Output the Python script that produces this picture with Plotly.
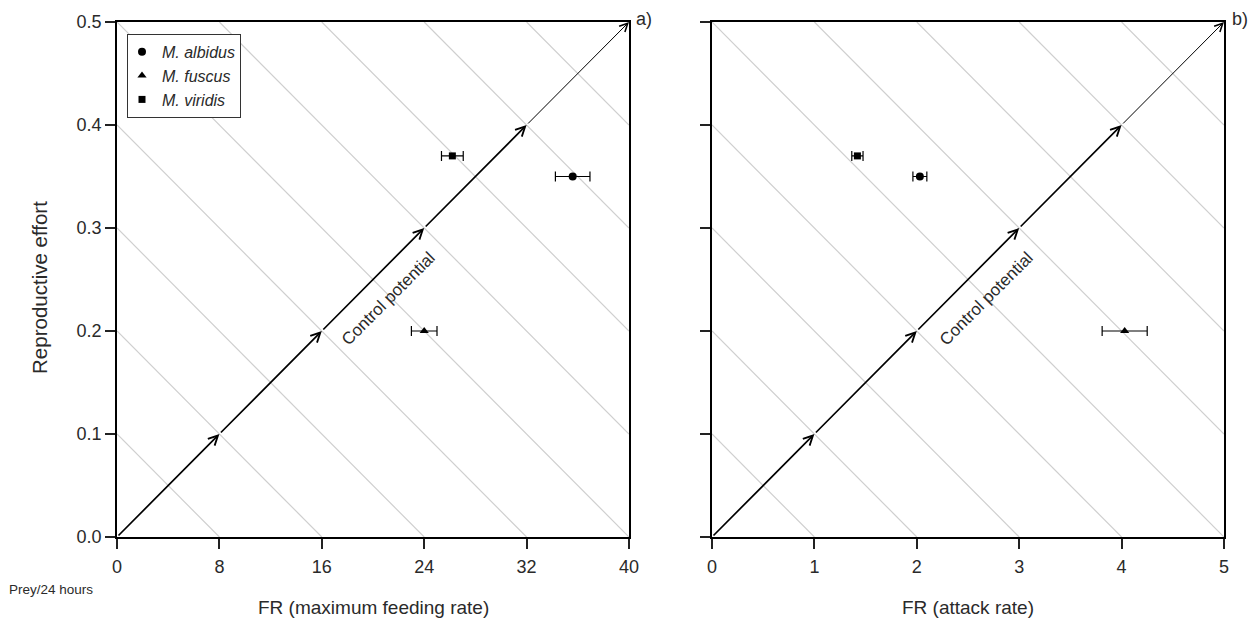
import plotly.graph_objects as go

species = ["M. albidus", "M. fuscus", "M. viridis"]
symbols = ["circle", "triangle-up", "square"]
reproductive_effort = [0.35, 0.20, 0.37]

fr_max = [35.6, 24.0, 26.2]
fr_max_err = [1.35, 1.0, 0.85]

fr_attack = [2.03, 4.03, 1.42]
fr_attack_err = [0.068, 0.22, 0.055]

x_max_a, x_max_b, y_max = 40, 5, 0.5
xticks_a = [0, 8, 16, 24, 32, 40]
xticks_b = [0, 1, 2, 3, 4, 5]
yticks = [0.0, 0.1, 0.2, 0.3, 0.4, 0.5]
iso_levels = [0.2, 0.4, 0.6, 0.8, 1.0, 1.2, 1.4, 1.6, 1.8]
arrow_steps = [0.2, 0.4, 0.6, 0.8, 1.0]

FONT = "Liberation Sans, Arial, sans-serif"
TXT = "#2a2a2a"
W, H = 1260, 641
ML, MR, MT, MB = 117, 36, 18, 104
PW = W - ML - MR
fig = go.Figure()

panels = [("x", "y", x_max_a, fr_max, fr_max_err, True),
          ("x2", "y2", x_max_b, fr_attack, fr_attack_err, False)]

for xa, ya, xmax, xs, xe, show_leg in panels:
    # gray iso-lines
    for c in iso_levels:
        if c <= 1:
            u = [c, 0]; v = [0, c]
        else:
            u = [1, c - 1]; v = [c - 1, 1]
        fig.add_trace(go.Scatter(x=[q * xmax for q in u], y=[q * y_max for q in v],
                                 mode="lines", line=dict(color="#cfcfcf", width=1.2),
                                 xaxis=xa, yaxis=ya, showlegend=False, hoverinfo="skip"))
    # arrows along diagonal
    prev = 0.0
    for i, s in enumerate(arrow_steps):
        fig.add_annotation(x=s * xmax, y=s * y_max, ax=prev * xmax, ay=prev * y_max,
                           xref=xa, yref=ya, axref=xa, ayref=ya, text="",
                           showarrow=True, arrowhead=5,
                           arrowsize=1.1 if i < 4 else 1.6,
                           arrowwidth=1.7 if i < 4 else 1.0, arrowcolor="black", standoff=0)
        prev = s
    # points
    for i in range(len(species)):
        fig.add_trace(go.Scatter(x=[xs[i]], y=[reproductive_effort[i]], mode="markers",
                                 marker=dict(symbol=symbols[i], color="black",
                                             size=8 if symbols[i] != "square" else 7),
                                 error_x=dict(type="data", array=[xe[i]], color="black",
                                              thickness=1.2, width=5),
                                 name="<i>" + species[i] + "</i>", showlegend=show_leg,
                                 xaxis=xa, yaxis=ya))

axis_common = dict(showline=True, linecolor="black", linewidth=1.5, mirror=True,
                   ticks="outside", ticklen=10, tickwidth=1.5, tickcolor="#222",
                   showgrid=False, zeroline=False,
                   tickfont=dict(family=FONT, size=18, color=TXT))
d1 = 512 / PW
d2 = (712 - ML) / PW
fig.update_layout(
    xaxis=dict(domain=[0, d1], range=[0, x_max_a], tickvals=xticks_a,
               ticklabelstandoff=3, **axis_common),
    xaxis2=dict(domain=[d2, 1], range=[0, x_max_b], tickvals=xticks_b,
                ticklabelstandoff=3, **axis_common),
    yaxis=dict(domain=[0, 1], range=[0, y_max], tickvals=yticks, tickformat=".1f",
               anchor="x", **axis_common),
    yaxis2=dict(domain=[0, 1], range=[0, y_max], tickvals=yticks, showticklabels=False,
                anchor="x2", **axis_common),
    width=W, height=H, margin=dict(l=ML, r=MR, t=MT, b=MB),
    plot_bgcolor="white", paper_bgcolor="white",
    legend=dict(x=10 / PW, y=(537 - 30) / 519, xanchor="left", yanchor="top",
                bordercolor="#333", borderwidth=1, bgcolor="white",
                font=dict(family=FONT, size=16, color=TXT),
                itemwidth=30, tracegroupgap=0, indentation=-6),
)

def px_to_paper_x(px):
    return (px - ML) / PW

def px_to_paper_y(py):
    return (H - MB - py) / (H - MT - MB)

texts = [
    ("Reproductive effort", 40, 286, 20.5, -90),
    ("FR (maximum feeding rate)", 373, 608, 19, 0),
    ("FR (attack rate)", 968, 608, 19, 0),
    ("Prey/24 hours", 51, 590, 13.5, 0),
    ("a)", 644, 15, 18, 0),
    ("b)", 1240, 15, 18, 0),
]
for t, px, py, sz, ang in texts:
    fig.add_annotation(x=px_to_paper_x(px), y=px_to_paper_y(py), xref="paper", yref="paper",
                       text=t, showarrow=False, textangle=ang,
                       font=dict(family=FONT, size=sz, color=TXT),
                       xanchor="center", yanchor="middle")

fig.add_annotation(x=21.2, y=0.232, xref="x", yref="y", text="Control potential",
                   showarrow=False, textangle=-45, font=dict(family=FONT, size=17, color=TXT))
fig.add_annotation(x=2.68, y=0.232, xref="x2", yref="y2", text="Control potential",
                   showarrow=False, textangle=-45, font=dict(family=FONT, size=17, color=TXT))

fig.write_html("out.html")
